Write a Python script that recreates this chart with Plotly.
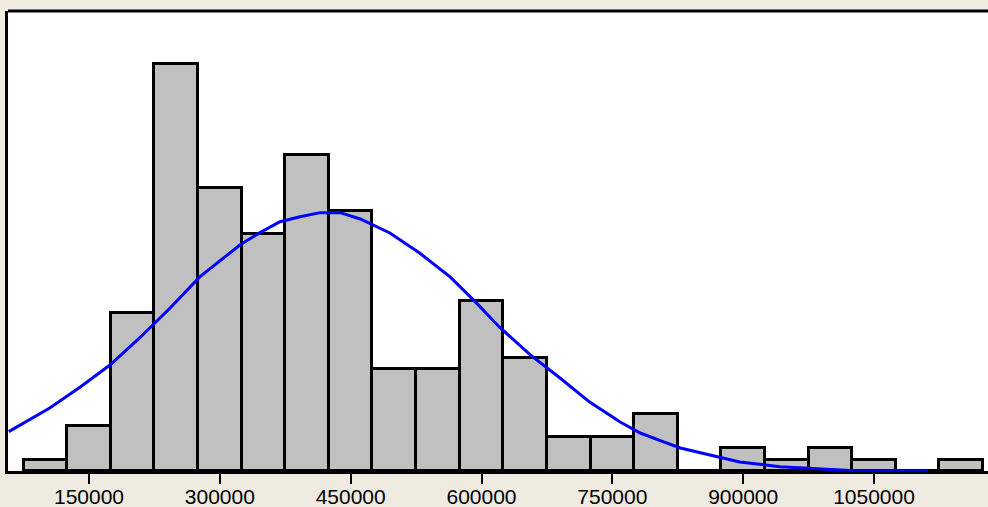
import plotly.graph_objects as go

# Histogram bins (centers, width 50000) and counts
bin_centers = [100000, 150000, 200000, 250000, 300000, 350000, 400000, 450000,
               500000, 550000, 600000, 650000, 700000, 750000, 800000, 850000,
               900000, 950000, 1000000, 1050000, 1100000, 1150000]
counts = [1, 4, 14, 36, 25, 21, 28, 23, 9, 9, 15, 10, 3, 3, 5, 0, 2, 1, 2, 1, 0, 1]
bin_width = 50000

# Fitted normal curve
curve_x = [58000, 105000, 140000, 174000, 208000, 243000, 277000, 323000, 346000,
           369000, 392000, 415000, 438000, 461000, 495000, 529000, 564000, 593000,
           621000, 656000, 690000, 724000, 759000, 782000, 805000, 828000, 851000,
           896000, 942000, 988000, 1034000, 1112000]
curve_y = [3.48, 5.58, 7.43, 9.38, 11.77, 14.42, 17.17, 20.0, 21.09, 22.06, 22.5,
           22.86, 22.86, 22.3, 21.06, 19.29, 17.17, 14.96, 12.7, 10.27, 8.23, 6.1,
           4.34, 3.36, 2.68, 2.04, 1.62, 0.8, 0.38, 0.18, 0.0, 0.0]

tick_vals = [150000, 300000, 450000, 600000, 750000, 900000, 1050000]
tick_text = ["150000", "300000", "450000", "600000", "750000", "900000", "1050000"]

fig = go.Figure()
fig.add_trace(go.Bar(
    x=bin_centers, y=counts, width=[bin_width] * len(bin_centers),
    marker=dict(color="#C0C0C0", line=dict(color="black", width=3)),
    showlegend=False, hoverinfo="skip",
))
fig.add_trace(go.Scatter(
    x=curve_x, y=curve_y, mode="lines",
    line=dict(color="#0000FF", width=3),
    showlegend=False, hoverinfo="skip",
))

fig.update_layout(
    width=988, height=507, autosize=False,
    margin=dict(l=8, r=0, t=11, b=36),
    paper_bgcolor="#EFEBE1", plot_bgcolor="white",
    bargap=0,
    font=dict(family="Liberation Sans", size=21, color="black"),
    shapes=[dict(type="line", xref="paper", yref="paper", x0=0, x1=1, y0=1, y1=1,
                 line=dict(color="black", width=3), layer="above")],
)
fig.update_xaxes(
    range=[57130, 1180700], tickvals=tick_vals, ticktext=tick_text,
    ticks="outside", ticklen=10, tickwidth=2, tickcolor="black",
    showline=True, linewidth=3, linecolor="black", showgrid=False, zeroline=False,
    ticklabelstandoff=-5, automargin=False,
)
fig.update_yaxes(
    range=[0, 40.7], showticklabels=False, ticks="", automargin=False,
    showline=True, linewidth=3, linecolor="black", showgrid=False, zeroline=False,
)

fig.write_html(
    "out.html",
    config={"displayModeBar": False},
    post_script="document.body.style.margin='0';document.body.style.overflow='hidden';",
)
